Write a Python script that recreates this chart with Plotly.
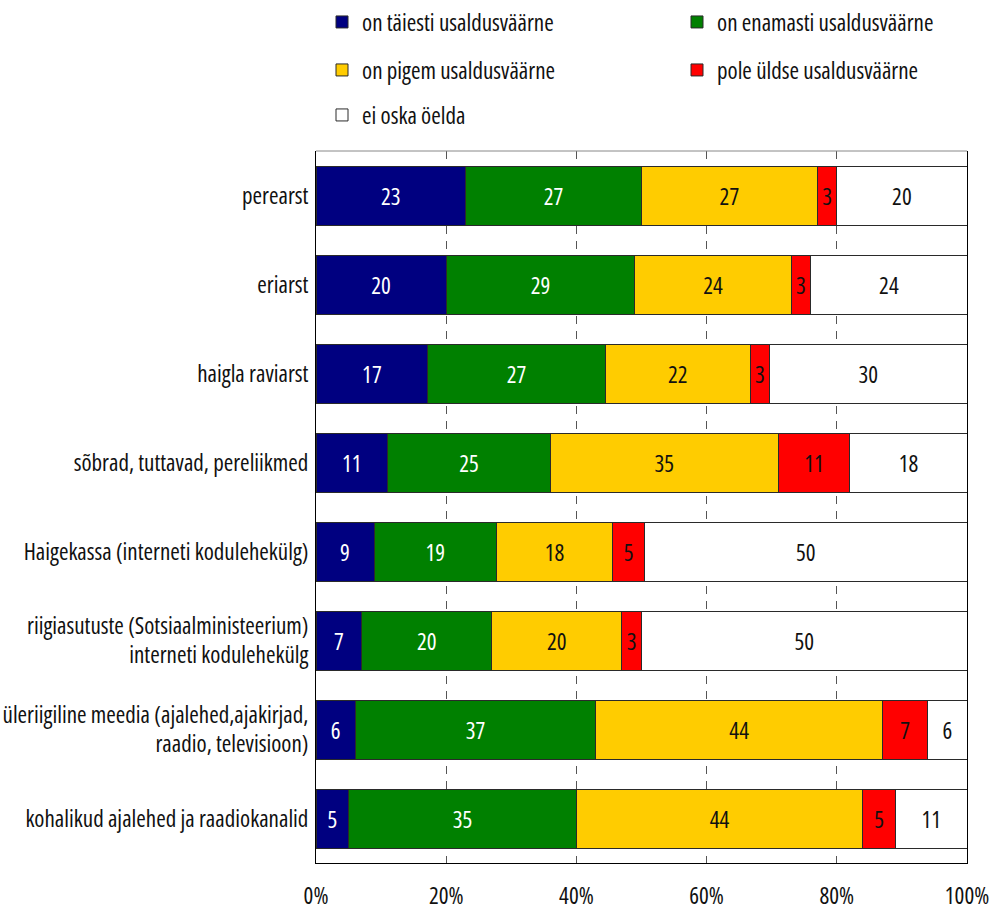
import plotly.graph_objects as go

# Categories (top to bottom)
categories = [
    "perearst",
    "eriarst",
    "haigla raviarst",
    "sõbrad, tuttavad, pereliikmed",
    "Haigekassa (interneti kodulehekülg)",
    "riigiasutuste (Sotsiaalministeerium)<br>interneti kodulehekülg",
    "üleriigiline meedia (ajalehed,ajakirjad,<br>raadio, televisioon)",
    "kohalikud ajalehed ja raadiokanalid",
]

# Answer shares per category
taiesti = [23, 20, 17, 11, 9, 7, 6, 5]
enamasti = [27, 29, 27, 25, 19, 20, 37, 35]
pigem = [27, 24, 22, 35, 18, 20, 44, 44]
pole = [3, 3, 3, 11, 5, 3, 7, 5]
ei_oska = [20, 24, 30, 18, 50, 50, 6, 11]

series_names = [
    "on täiesti usaldusväärne",
    "on enamasti usaldusväärne",
    "on pigem usaldusväärne",
    "pole üldse usaldusväärne",
    "ei oska öelda",
]
series_values = [taiesti, enamasti, pigem, pole, ei_oska]
series_colors = ["#000080", "#008000", "#FFCC00", "#FF0000", "#FFFFFF"]
text_colors = ["#FFFFFF", "#FFFFFF", "#111111", "#111111", "#111111"]

x_ticks = [0, 20, 40, 60, 80, 100]
x_tick_text = [f"{v}%" for v in x_ticks]

FONT = "Open Sans, Roboto, sans-serif"

# one legend box per entry: (x, y) of the box in container pixels
legend_pos = [(322, 22), (677, 22), (322, 70), (677, 70), (322, 115)]
legend_ids = ["legend"] + [f"legend{i}" for i in range(2, 6)]

fig = go.Figure()
for name, vals, col, tcol, lg in zip(series_names, series_values, series_colors,
                                     text_colors, legend_ids):
    fig.add_trace(go.Bar(
        y=categories,
        x=vals,
        name=name,
        orientation="h",
        marker=dict(color=col, line=dict(color="#2a2a2a", width=1)),
        text=[str(v) for v in vals],
        textposition="inside",
        insidetextanchor="middle",
        textangle=0,
        constraintext="none",
        textfont=dict(family=FONT, size=23, color=tcol),
        legend=lg,
        showlegend=True,
    ))

legend_layout = {}
for lg, (px, py) in zip(legend_ids, legend_pos):
    legend_layout[lg] = dict(
        visible=True,
        orientation="h",
        xref="container",
        yref="container",
        x=px / 993,
        y=1 - py / 910,
        xanchor="left",
        yanchor="middle",
        traceorder="normal",
        font=dict(family=FONT, size=23, color="#111111"),
        bgcolor="rgba(0,0,0,0)",
        itemclick=False,
        itemdoubleclick=False,
    )

fig.update_layout(
    width=993,
    height=910,
    showlegend=True,
    paper_bgcolor="white",
    plot_bgcolor="white",
    barmode="stack",
    barnorm="percent",
    bargap=0.337,
    margin=dict(l=316, r=26, t=151, b=47, autoexpand=False),
    font=dict(family=FONT, size=23, color="#111111"),
    xaxis=dict(
        range=[0, 100],
        tickmode="array",
        tickvals=x_ticks,
        ticktext=x_tick_text,
        showgrid=True,
        gridcolor="#555555",
        griddash="8px,7px",
        gridwidth=1,
        zeroline=False,
        showline=True,
        linecolor="#000000",
        linewidth=1,
        ticks="",
        ticklabelstandoff=12,
        ticklabeloverflow="allow",
        automargin=False,
        tickfont=dict(family=FONT, size=23, color="#111111"),
    ),
    yaxis=dict(
        autorange="reversed",
        showgrid=False,
        showline=True,
        mirror=True,
        linecolor="#000000",
        linewidth=1,
        ticks="",
        ticklabelstandoff=2,
        automargin=False,
        tickfont=dict(family=FONT, size=23, color="#111111"),
    ),
    shapes=[dict(type="line", xref="paper", yref="paper", x0=0, x1=1, y0=1, y1=1,
                 line=dict(color="#888888", width=1))],
    **legend_layout,
)

# condensed letterforms for every text in the figure
condense_js = (
    "var s=document.createElement('style');"
    "s.textContent='.js-plotly-plot svg text{font-stretch:75%;}';"
    "document.head.appendChild(s);"
)

fig.write_html("out.html", post_script=condense_js)
